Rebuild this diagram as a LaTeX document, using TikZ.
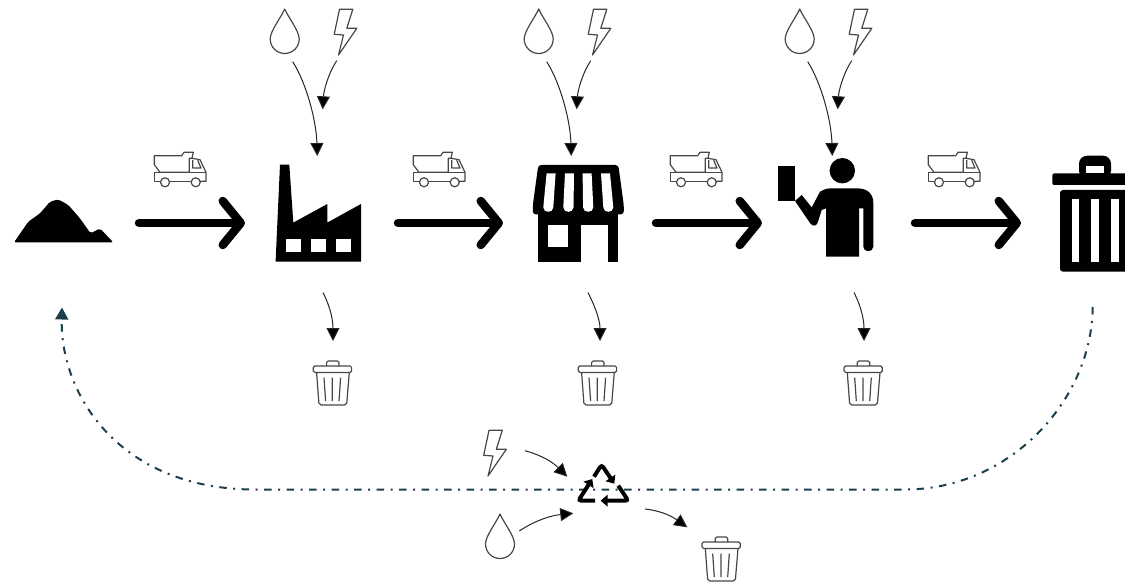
\documentclass[tikz,border=0pt]{standalone}
\usetikzlibrary{arrows.meta,calc}
\definecolor{loopteal}{HTML}{1B3F4E}
\tikzset{
  icon/.style={inner sep=0pt,minimum size=0pt},
  outline/.style={draw=black!72,line width=1.2pt,line join=round},
  thinarrow/.style={black!85,line width=1pt,-{Triangle[length=13pt,width=13pt,fill=black]}},
  bigarrow/.style={line width=8.5pt,line cap=round,-{Straight Barb[round,length=18pt,width=44pt]}},
  looparrow/.style={loopteal,line width=2pt,dash pattern=on 7.5pt off 6.5pt on 2pt off 6.5pt,-{Triangle[length=12pt,width=13pt]}},
  recyclearrow/.style={line width=4pt,rounded corners=3pt,-{Triangle[length=7pt,width=11.5pt]}},
  pics/droplet/.style={code={
    \draw[outline] (0,-22) .. controls (-4,-13) and (-14.5,0) .. (-14.5,8)
      .. controls (-14.5,16) and (-8,22.5) .. (0,22.5)
      .. controls (8,22.5) and (14.5,16) .. (14.5,8)
      .. controls (14.5,0) and (4,-13) .. (0,-22) -- cycle;
  }},
  pics/bolt/.style={code={
    \draw[outline] (-6,-22.7) -- (7.3,-22.7) -- (1.3,-3.7) -- (11.3,-3.7) -- (-7,23) -- (-2,3) -- (-11.3,2.3) -- cycle;
  }},
  pics/truck/.style={code={
    \draw[outline] (-25.7,-14.3) -- (1.7,-14.3) -- (4,-17.7) -- (13.3,-17.7) -- (12,-11.7) -- (9.3,-11.7) -- (9.3,2.3) -- (-20,2.3) -- (-25.7,-5.3) -- cycle;
    \draw[outline] (-20,2.3) -- (-25.7,2.3) -- (-25.7,11.3) -- (-19.5,11.3);
    \draw[outline] (-10.5,11.3) -- (11,11.3);
    \draw[outline] (20.2,11.3) -- (26,11.3) -- (26,2.3) -- (20,-10.3) -- (12,-11.7);
    \draw[outline] (12.7,-10) -- (12.7,-2) -- (21,-2) -- (17.7,-9.7);
    \draw[outline] (9.3,2.3) -- (26,2.3);
    \draw[outline] (-15,12.3) circle[radius=4.5];
    \draw[outline] (15.7,12.3) circle[radius=4.5];
  }},
  pics/smallbin/.style={code={
    \draw[outline,rounded corners=1.5pt] (-5.7,-17.7) -- (-5.7,-22.7) -- (6.7,-22.7) -- (6.7,-17.7);
    \draw[outline,rounded corners=1.5pt] (-19,-17.7) rectangle (19.3,-11.3);
    \draw[outline,rounded corners=2pt] (-15.7,-11.3) -- (-13.3,21.3) -- (14.3,21.3) -- (17,-11.3);
    \draw[outline] (-8.3,-6) -- (-6.7,17.3) (0,-6) -- (0,17.3) (8.3,-6) -- (6.7,17.3);
  }},
  pics/bigbin/.style={code={
    \fill[rounded corners=8pt] (-16,-35) -- (-16,-58) -- (16,-58) -- (16,-35) -- cycle;
    \fill[white] (-9,-40.3) rectangle (9,-47.7);
    \fill[rounded corners=2pt] (-42.7,-40.3) rectangle (42.7,-28.7);
    \fill[rounded corners=3pt] (-35,-23.7) rectangle (35,58);
    \foreach \sx in {-19.5,0,20}
      \fill[white] (\sx-3.9,-14.3) rectangle (\sx+3.9,48);
  }},
  pics/mound/.style={code={
    \fill[rounded corners=2pt] (-49.3,20.7) -- (-35,0) -- (-23.3,-8.3) -- (-13.3,-20) -- (-5,-22.3) -- (5,-16.7) -- (16.7,-3.3) -- (27.3,11.7) -- (36.7,6.7) -- (50,20.7) -- cycle;
  }},
  pics/factory/.style={code={
    \fill (-38.3,-48.7) -- (-29,-48.7) -- (-25,9.3) -- (9,-9.3) -- (9,9.3) -- (42.7,-9.3) -- (42.7,48.3) -- (-42.7,48.3) -- cycle;
    \foreach \wx in {-32.7,-7.3,17.7}
      \fill[white] (\wx,26) rectangle ++(15.3,12.3);
  }},
  pics/shop/.style={code={
    \fill[rounded corners=3pt] (-40,-48.3) -- (40,-48.3) -- (45.5,-8) -- (45.5,1) -- (-45.5,1) -- (-45.5,-8) -- cycle;
    \fill (-40,0) rectangle (40,48.3);
    \fill[white] (-30.7,11.7) rectangle (-10,34);
    \fill[white] (2.3,11.7) rectangle (30,48.6);
    \foreach \ta/\tb/\ba/\bb in {-31.7/-22.7/-35/-25,-13.3/-4.3/-15/-4.8,4.3/13.3/4.8/15,22.7/31.7/25/35}
      \fill[white] (\ta,-40) -- (\tb,-40) -- (\bb,-6) .. controls (\bb,0) and (\ba,0) .. (\ba,-6) -- cycle;
  }},
  pics/person/.style={code={
    \fill (17.3,-41) circle[radius=12.7];
    \fill (-47.3,-45.7) rectangle (-30,-10.7);
    \fill[rounded corners=3pt] (-5,-20) -- (1.7,-23.3) -- (30,-23.3) [sharp corners] .. controls (42,-23.3) and (48.3,-18) .. (48.3,-9) -- (48.3,35)
      .. controls (48.3,41) and (38.3,41) .. (38.3,35) -- (38.3,-3.3) -- (34,-3.3) -- (34,45) -- (1,45) -- (1,-3.3) -- (-3.3,-1.7) -- (-6.7,9)
      .. controls (-8,15) and (-12,15) .. (-14.5,12) -- (-30,-10.7) -- (-23.3,-16.7) -- (-13.3,-4.3) -- cycle;
  }},
}
\begin{document}
\begin{tikzpicture}[x=1pt,y=-1pt]
\useasboundingbox (0,0) rectangle (1125,583);
\node[icon] (mound) at (63.3,221.7) {};
\node[icon] (factory) at (318.3,213.3) {};
\node[icon] (shop) at (578.3,213.3) {};
\node[icon] (person) at (825,211.7) {};
\node[icon] (bigbin) at (1095,213.7) {};
\node[icon] (recycle) at (603.3,486.7) {};
\pic at (mound) {mound};
\pic at (factory) {factory};
\pic at (shop) {shop};
\pic at (person) {person};
\pic at (bigbin) {bigbin};
\foreach \n/\dx in {1/0,2/254,3/515}{
  \node[icon] (drop\n) at (284.7+\dx,31) {};
  \node[icon] (bolt\n) at (345.5+\dx,32) {};
  \coordinate (dropin\n) at (317.3+\dx,156);
  \coordinate (boltin\n) at (322.7+\dx,109.3);
  \pic at (drop\n) {droplet};
  \pic at (bolt\n) {bolt};
  \draw[thinarrow] ($(drop\n)+(8,30.7)$) .. controls +(14,22) and +(-1,-35) .. (dropin\n);
  \draw[thinarrow] ($(bolt\n)+(-8.8,28.7)$) .. controls +(-9,14) and +(1,-18) .. (boltin\n);
}
\foreach \n/\tx/\ax/\bx in {1/180/135/245,2/439/394/503,3/696/652/762,4/954/911/1021}{
  \node[icon] (truck\n) at (\tx,170) {};
  \pic at (truck\n) {truck};
  \coordinate (go\n) at (\ax+4,223);
  \coordinate (end\n) at (\bx,223);
  \draw[bigarrow] (go\n) -- (end\n);
}
\foreach \n/\bx/\sx/\ex in {1/332.3/323/333,2/597.3/588/600,3/863/854/864}{
  \node[icon] (waste\n) at (\bx,383.7) {};
  \coordinate (wout\n) at (\sx,292.5);
  \coordinate (win\n) at (\ex,341);
  \pic at (waste\n) {smallbin};
  \draw[thinarrow] (wout\n) .. controls +(8,16) and +(0,-20) .. (win\n);
}
\coordinate (binback) at (1092.7,307);
\coordinate (moundback) at (62,307.5);
\draw[looparrow] (binback) .. controls (1092,400) and (1010,489.5) .. (905,489.5) -- (255,489.5)
  .. controls (120,489.5) and (60,395) .. (moundback);
\draw[recyclearrow] ($(recycle)+(-9.3,-10)$) -- ($(recycle)+(-1.7,-22)$) -- ($(recycle)+(11,-3)$);
\draw[recyclearrow] ($(recycle)+(-8.3,14)$) -- ($(recycle)+(-25,14)$) -- ($(recycle)+(-11,-7.7)$);
\draw[recyclearrow] ($(recycle)+(15,-1)$) -- ($(recycle)+(25,14)$) -- ($(recycle)+(-2.7,14)$);
\node[icon] (bolt4) at (495,453) {};
\node[icon] (drop4) at (500,536) {};
\node[icon] (waste4) at (721,559.7) {};
\pic at (bolt4) {bolt};
\pic at (drop4) {droplet};
\pic at (waste4) {smallbin};
\draw[thinarrow] ($(bolt4)+(30,-2.3)$) .. controls +(18,5) and +(-14,-14) .. ($(recycle)+(-36,-10)$);
\draw[thinarrow] ($(drop4)+(19.3,-5)$) .. controls +(18,-12) and +(-20,2) .. ($(recycle)+(-30,26.6)$);
\draw[thinarrow] ($(recycle)+(41.7,22.3)$) .. controls +(18,2) and +(-14,-10) .. ($(waste4)+(-33.7,-32.4)$);
\end{tikzpicture}
\end{document}
